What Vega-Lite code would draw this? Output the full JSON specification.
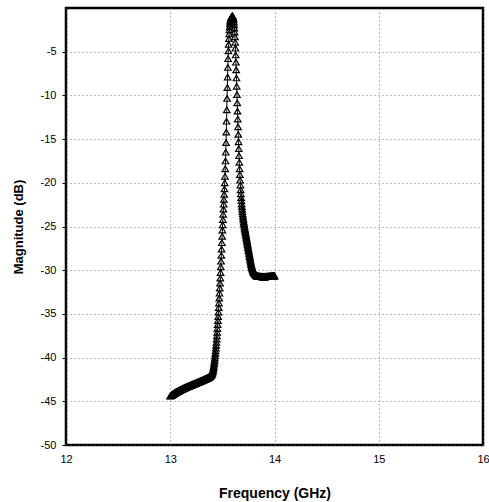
{
  "$schema": "https://vega.github.io/schema/vega-lite/v6.json",
  "width": 417,
  "height": 437,
  "autosize": {"type": "none"},
  "padding": {"left": 66, "top": 8, "right": 6, "bottom": 57},
  "background": "white",
  "config": {
    "view": {"stroke": "black", "strokeWidth": 2.5},
    "font": "Liberation Sans",
    "axis": {
      "grid": true,
      "gridColor": "#555555",
      "gridDash": [1, 3],
      "gridWidth": 1,
      "gridOpacity": 0.8,
      "domain": false,
      "labelColor": "black",
      "labelFont": "Liberation Sans",
      "labelFontSize": 11,
      "titleColor": "black",
      "titleFont": "Liberation Sans",
      "titleFontWeight": "bold",
      "tickColor": "black"
    }
  },
  "data": {
    "values": [
      {"f":13.0000,"m":-44.40},{"f":13.0025,"m":-44.38},{"f":13.0050,"m":-44.36},{"f":13.0075,"m":-44.34},{"f":13.0100,"m":-44.32},
      {"f":13.0125,"m":-44.30},{"f":13.0150,"m":-44.28},{"f":13.0175,"m":-44.26},{"f":13.0200,"m":-44.24},{"f":13.0225,"m":-44.22},
      {"f":13.0250,"m":-44.20},{"f":13.0275,"m":-44.18},{"f":13.0300,"m":-44.16},{"f":13.0325,"m":-44.14},{"f":13.0350,"m":-44.12},
      {"f":13.0375,"m":-44.10},{"f":13.0400,"m":-44.08},{"f":13.0425,"m":-44.06},{"f":13.0450,"m":-44.04},{"f":13.0475,"m":-44.02},
      {"f":13.0500,"m":-44.00},{"f":13.0525,"m":-43.98},{"f":13.0550,"m":-43.97},{"f":13.0575,"m":-43.95},{"f":13.0600,"m":-43.94},
      {"f":13.0625,"m":-43.92},{"f":13.0650,"m":-43.90},{"f":13.0675,"m":-43.89},{"f":13.0700,"m":-43.87},{"f":13.0725,"m":-43.86},
      {"f":13.0750,"m":-43.84},{"f":13.0775,"m":-43.82},{"f":13.0800,"m":-43.81},{"f":13.0825,"m":-43.79},{"f":13.0850,"m":-43.78},
      {"f":13.0875,"m":-43.76},{"f":13.0900,"m":-43.74},{"f":13.0925,"m":-43.73},{"f":13.0950,"m":-43.71},{"f":13.0975,"m":-43.70},
      {"f":13.1000,"m":-43.68},{"f":13.1025,"m":-43.67},{"f":13.1050,"m":-43.65},{"f":13.1075,"m":-43.64},{"f":13.1100,"m":-43.62},
      {"f":13.1125,"m":-43.61},{"f":13.1150,"m":-43.60},{"f":13.1175,"m":-43.58},{"f":13.1200,"m":-43.57},{"f":13.1225,"m":-43.55},
      {"f":13.1250,"m":-43.54},{"f":13.1275,"m":-43.53},{"f":13.1300,"m":-43.51},{"f":13.1325,"m":-43.50},{"f":13.1350,"m":-43.48},
      {"f":13.1375,"m":-43.47},{"f":13.1400,"m":-43.46},{"f":13.1425,"m":-43.44},{"f":13.1450,"m":-43.43},{"f":13.1475,"m":-43.41},
      {"f":13.1500,"m":-43.40},{"f":13.1525,"m":-43.39},{"f":13.1550,"m":-43.38},{"f":13.1575,"m":-43.36},{"f":13.1600,"m":-43.35},
      {"f":13.1625,"m":-43.34},{"f":13.1650,"m":-43.33},{"f":13.1675,"m":-43.31},{"f":13.1700,"m":-43.30},{"f":13.1725,"m":-43.29},
      {"f":13.1750,"m":-43.28},{"f":13.1775,"m":-43.26},{"f":13.1800,"m":-43.25},{"f":13.1825,"m":-43.24},{"f":13.1850,"m":-43.23},
      {"f":13.1875,"m":-43.21},{"f":13.1900,"m":-43.20},{"f":13.1925,"m":-43.19},{"f":13.1950,"m":-43.18},{"f":13.1975,"m":-43.16},
      {"f":13.2000,"m":-43.15},{"f":13.2025,"m":-43.14},{"f":13.2050,"m":-43.12},{"f":13.2075,"m":-43.11},{"f":13.2100,"m":-43.10},
      {"f":13.2125,"m":-43.09},{"f":13.2150,"m":-43.07},{"f":13.2175,"m":-43.06},{"f":13.2200,"m":-43.05},{"f":13.2225,"m":-43.04},
      {"f":13.2250,"m":-43.02},{"f":13.2275,"m":-43.01},{"f":13.2300,"m":-43.00},{"f":13.2325,"m":-42.99},{"f":13.2350,"m":-42.97},
      {"f":13.2375,"m":-42.96},{"f":13.2400,"m":-42.95},{"f":13.2425,"m":-42.94},{"f":13.2450,"m":-42.92},{"f":13.2475,"m":-42.91},
      {"f":13.2500,"m":-42.90},{"f":13.2525,"m":-42.89},{"f":13.2550,"m":-42.87},{"f":13.2575,"m":-42.86},{"f":13.2600,"m":-42.85},
      {"f":13.2625,"m":-42.84},{"f":13.2650,"m":-42.82},{"f":13.2675,"m":-42.81},{"f":13.2700,"m":-42.80},{"f":13.2725,"m":-42.79},
      {"f":13.2750,"m":-42.77},{"f":13.2775,"m":-42.76},{"f":13.2800,"m":-42.75},{"f":13.2825,"m":-42.74},{"f":13.2850,"m":-42.72},
      {"f":13.2875,"m":-42.71},{"f":13.2900,"m":-42.70},{"f":13.2925,"m":-42.69},{"f":13.2950,"m":-42.67},{"f":13.2975,"m":-42.66},
      {"f":13.3000,"m":-42.65},{"f":13.3025,"m":-42.64},{"f":13.3050,"m":-42.62},{"f":13.3075,"m":-42.61},{"f":13.3100,"m":-42.60},
      {"f":13.3125,"m":-42.58},{"f":13.3150,"m":-42.57},{"f":13.3175,"m":-42.56},{"f":13.3200,"m":-42.54},{"f":13.3225,"m":-42.53},
      {"f":13.3250,"m":-42.52},{"f":13.3275,"m":-42.50},{"f":13.3300,"m":-42.49},{"f":13.3325,"m":-42.48},{"f":13.3350,"m":-42.46},
      {"f":13.3375,"m":-42.45},{"f":13.3400,"m":-42.44},{"f":13.3425,"m":-42.42},{"f":13.3450,"m":-42.41},{"f":13.3475,"m":-42.40},
      {"f":13.3500,"m":-42.38},{"f":13.3525,"m":-42.37},{"f":13.3550,"m":-42.36},{"f":13.3575,"m":-42.34},{"f":13.3600,"m":-42.32},
      {"f":13.3625,"m":-42.31},{"f":13.3650,"m":-42.29},{"f":13.3675,"m":-42.27},{"f":13.3700,"m":-42.25},{"f":13.3725,"m":-42.23},
      {"f":13.3750,"m":-42.21},{"f":13.3775,"m":-42.19},{"f":13.3800,"m":-42.16},{"f":13.3825,"m":-42.13},{"f":13.3850,"m":-42.10},
      {"f":13.3875,"m":-42.07},{"f":13.3900,"m":-42.03},{"f":13.3925,"m":-41.99},{"f":13.3950,"m":-41.95},{"f":13.3975,"m":-41.90},
      {"f":13.4000,"m":-41.85},{"f":13.4025,"m":-41.77},{"f":13.4050,"m":-41.68},{"f":13.4075,"m":-41.57},{"f":13.4100,"m":-41.45},
      {"f":13.4125,"m":-41.31},{"f":13.4150,"m":-41.15},{"f":13.4175,"m":-40.96},{"f":13.4200,"m":-40.75},{"f":13.4225,"m":-40.53},
      {"f":13.4250,"m":-40.30},{"f":13.4275,"m":-40.06},{"f":13.4300,"m":-39.80},{"f":13.4325,"m":-39.52},{"f":13.4350,"m":-39.23},
      {"f":13.4375,"m":-38.92},{"f":13.4400,"m":-38.60},{"f":13.4425,"m":-38.25},{"f":13.4450,"m":-37.89},{"f":13.4475,"m":-37.50},
      {"f":13.4500,"m":-37.10},{"f":13.4525,"m":-36.67},{"f":13.4550,"m":-36.22},{"f":13.4575,"m":-35.77},{"f":13.4600,"m":-35.30},
      {"f":13.4625,"m":-34.80},{"f":13.4650,"m":-34.28},{"f":13.4675,"m":-33.75},{"f":13.4700,"m":-33.20},{"f":13.4725,"m":-32.63},
      {"f":13.4750,"m":-32.05},{"f":13.4775,"m":-31.48},{"f":13.4800,"m":-30.90},{"f":13.4825,"m":-30.27},{"f":13.4850,"m":-29.62},
      {"f":13.4875,"m":-28.97},{"f":13.4900,"m":-28.30},{"f":13.4925,"m":-27.58},{"f":13.4950,"m":-26.85},{"f":13.4975,"m":-26.12},
      {"f":13.5000,"m":-25.40},{"f":13.5025,"m":-24.80},{"f":13.5050,"m":-24.20},{"f":13.5075,"m":-23.60},{"f":13.5100,"m":-23.00},
      {"f":13.5125,"m":-22.45},{"f":13.5150,"m":-21.90},{"f":13.5175,"m":-21.32},{"f":13.5200,"m":-20.70},{"f":13.5225,"m":-20.00},
      {"f":13.5250,"m":-19.25},{"f":13.5275,"m":-18.40},{"f":13.5300,"m":-17.50},{"f":13.5325,"m":-16.50},{"f":13.5350,"m":-15.40},
      {"f":13.5375,"m":-14.20},{"f":13.5400,"m":-12.95},{"f":13.5425,"m":-11.65},{"f":13.5450,"m":-10.35},{"f":13.5475,"m":-9.10},
      {"f":13.5500,"m":-7.90},{"f":13.5525,"m":-6.80},{"f":13.5550,"m":-5.80},{"f":13.5575,"m":-4.90},{"f":13.5600,"m":-4.15},
      {"f":13.5625,"m":-3.50},{"f":13.5650,"m":-2.95},{"f":13.5675,"m":-2.50},{"f":13.5700,"m":-2.15},{"f":13.5725,"m":-1.85},
      {"f":13.5750,"m":-1.62},{"f":13.5775,"m":-1.45},{"f":13.5800,"m":-1.32},{"f":13.5825,"m":-1.20},{"f":13.5850,"m":-1.11},
      {"f":13.5875,"m":-1.04},{"f":13.5900,"m":-0.99},{"f":13.5925,"m":-0.95},{"f":13.5950,"m":-0.93},{"f":13.5975,"m":-0.94},
      {"f":13.6000,"m":-0.98},{"f":13.6025,"m":-1.06},{"f":13.6050,"m":-1.18},{"f":13.6075,"m":-1.36},{"f":13.6100,"m":-1.60},
      {"f":13.6125,"m":-1.92},{"f":13.6150,"m":-2.30},{"f":13.6175,"m":-2.76},{"f":13.6200,"m":-3.30},{"f":13.6225,"m":-3.92},
      {"f":13.6250,"m":-4.60},{"f":13.6275,"m":-5.37},{"f":13.6300,"m":-6.20},{"f":13.6325,"m":-7.08},{"f":13.6350,"m":-8.00},
      {"f":13.6375,"m":-8.95},{"f":13.6400,"m":-9.90},{"f":13.6425,"m":-10.85},{"f":13.6450,"m":-11.80},{"f":13.6475,"m":-12.70},
      {"f":13.6500,"m":-13.60},{"f":13.6525,"m":-14.45},{"f":13.6550,"m":-15.30},{"f":13.6575,"m":-16.10},{"f":13.6600,"m":-16.90},
      {"f":13.6625,"m":-17.65},{"f":13.6650,"m":-18.40},{"f":13.6675,"m":-19.05},{"f":13.6700,"m":-19.70},{"f":13.6725,"m":-20.25},
      {"f":13.6750,"m":-20.80},{"f":13.6775,"m":-21.25},{"f":13.6800,"m":-21.70},{"f":13.6825,"m":-22.05},{"f":13.6850,"m":-22.40},
      {"f":13.6875,"m":-22.72},{"f":13.6900,"m":-23.02},{"f":13.6925,"m":-23.30},{"f":13.6950,"m":-23.56},{"f":13.6975,"m":-23.80},
      {"f":13.7000,"m":-24.03},{"f":13.7025,"m":-24.25},{"f":13.7050,"m":-24.46},{"f":13.7075,"m":-24.66},{"f":13.7100,"m":-24.85},
      {"f":13.7125,"m":-25.03},{"f":13.7150,"m":-25.21},{"f":13.7175,"m":-25.38},{"f":13.7200,"m":-25.55},{"f":13.7225,"m":-25.72},
      {"f":13.7250,"m":-25.89},{"f":13.7275,"m":-26.06},{"f":13.7300,"m":-26.23},{"f":13.7325,"m":-26.40},{"f":13.7350,"m":-26.57},
      {"f":13.7375,"m":-26.74},{"f":13.7400,"m":-26.91},{"f":13.7425,"m":-27.08},{"f":13.7450,"m":-27.25},{"f":13.7475,"m":-27.42},
      {"f":13.7500,"m":-27.59},{"f":13.7525,"m":-27.76},{"f":13.7550,"m":-27.93},{"f":13.7575,"m":-28.10},{"f":13.7600,"m":-28.27},
      {"f":13.7625,"m":-28.44},{"f":13.7650,"m":-28.60},{"f":13.7675,"m":-28.76},{"f":13.7700,"m":-28.92},{"f":13.7725,"m":-29.07},
      {"f":13.7750,"m":-29.22},{"f":13.7775,"m":-29.36},{"f":13.7800,"m":-29.49},{"f":13.7825,"m":-29.61},{"f":13.7850,"m":-29.72},
      {"f":13.7875,"m":-29.82},{"f":13.7900,"m":-29.91},{"f":13.7925,"m":-29.99},{"f":13.7950,"m":-30.07},{"f":13.7975,"m":-30.14},
      {"f":13.8000,"m":-30.20},{"f":13.8025,"m":-30.26},{"f":13.8050,"m":-30.31},{"f":13.8075,"m":-30.36},{"f":13.8100,"m":-30.40},
      {"f":13.8125,"m":-30.44},{"f":13.8150,"m":-30.48},{"f":13.8175,"m":-30.51},{"f":13.8200,"m":-30.54},{"f":13.8225,"m":-30.57},
      {"f":13.8250,"m":-30.60},{"f":13.8275,"m":-30.62},{"f":13.8300,"m":-30.64},{"f":13.8325,"m":-30.66},{"f":13.8350,"m":-30.67},
      {"f":13.8375,"m":-30.68},{"f":13.8400,"m":-30.69},{"f":13.8425,"m":-30.70},{"f":13.8450,"m":-30.70},{"f":13.8475,"m":-30.71},
      {"f":13.8500,"m":-30.71},{"f":13.8525,"m":-30.72},{"f":13.8550,"m":-30.72},{"f":13.8575,"m":-30.72},{"f":13.8600,"m":-30.73},
      {"f":13.8625,"m":-30.73},{"f":13.8650,"m":-30.73},{"f":13.8675,"m":-30.73},{"f":13.8700,"m":-30.74},{"f":13.8725,"m":-30.74},
      {"f":13.8750,"m":-30.74},{"f":13.8775,"m":-30.74},{"f":13.8800,"m":-30.74},{"f":13.8825,"m":-30.75},{"f":13.8850,"m":-30.75},
      {"f":13.8875,"m":-30.75},{"f":13.8900,"m":-30.75},{"f":13.8925,"m":-30.75},{"f":13.8950,"m":-30.75},{"f":13.8975,"m":-30.75},
      {"f":13.9000,"m":-30.75},{"f":13.9025,"m":-30.75},{"f":13.9050,"m":-30.75},{"f":13.9075,"m":-30.75},{"f":13.9100,"m":-30.75},
      {"f":13.9125,"m":-30.74},{"f":13.9150,"m":-30.74},{"f":13.9175,"m":-30.74},{"f":13.9200,"m":-30.74},{"f":13.9225,"m":-30.74},
      {"f":13.9250,"m":-30.73},{"f":13.9275,"m":-30.73},{"f":13.9300,"m":-30.73},{"f":13.9325,"m":-30.73},{"f":13.9350,"m":-30.72},
      {"f":13.9375,"m":-30.72},{"f":13.9400,"m":-30.72},{"f":13.9425,"m":-30.71},{"f":13.9450,"m":-30.71},{"f":13.9475,"m":-30.71},
      {"f":13.9500,"m":-30.70},{"f":13.9525,"m":-30.70},{"f":13.9550,"m":-30.70},{"f":13.9575,"m":-30.69},{"f":13.9600,"m":-30.69},
      {"f":13.9625,"m":-30.69},{"f":13.9650,"m":-30.68},{"f":13.9675,"m":-30.68},{"f":13.9700,"m":-30.68},{"f":13.9725,"m":-30.67},
      {"f":13.9750,"m":-30.67},{"f":13.9775,"m":-30.67},{"f":13.9800,"m":-30.66},{"f":13.9825,"m":-30.66},{"f":13.9850,"m":-30.66},
      {"f":13.9875,"m":-30.65},{"f":13.9900,"m":-30.65},{"f":13.9925,"m":-30.65},{"f":13.9950,"m":-30.64},{"f":13.9975,"m":-30.64},
      {"f":14.0000,"m":-30.64}
    ]
  },
  "mark": {
    "type": "line",
    "color": "black",
    "strokeWidth": 1,
    "clip": true,
    "point": {"shape": "triangle-up", "filled": false, "size": 42, "color": "black", "strokeWidth": 1.2}
  },
  "encoding": {
    "x": {
      "field": "f",
      "type": "quantitative",
      "scale": {"domain": [12, 16], "nice": false, "zero": false},
      "axis": {
        "title": "Frequency (GHz)",
        "values": [12, 13, 14, 15, 16],
        "labelExpr": "toString(datum.value)",
        "tickSize": 0,
        "labelPadding": 8,
        "labelFlush": false,
        "titleFontSize": 14,
        "titlePadding": 22
      }
    },
    "y": {
      "field": "m",
      "type": "quantitative",
      "scale": {"domain": [-50, 0], "nice": false, "zero": false},
      "axis": {
        "title": "Magnitude (dB)",
        "values": [-50, -45, -40, -35, -30, -25, -20, -15, -10, -5],
        "labelExpr": "toString(datum.value)",
        "tickSize": 4,
        "labelPadding": 6,
        "labelFlush": false,
        "titleFontSize": 13,
        "titlePadding": 15
      }
    }
  }
}
